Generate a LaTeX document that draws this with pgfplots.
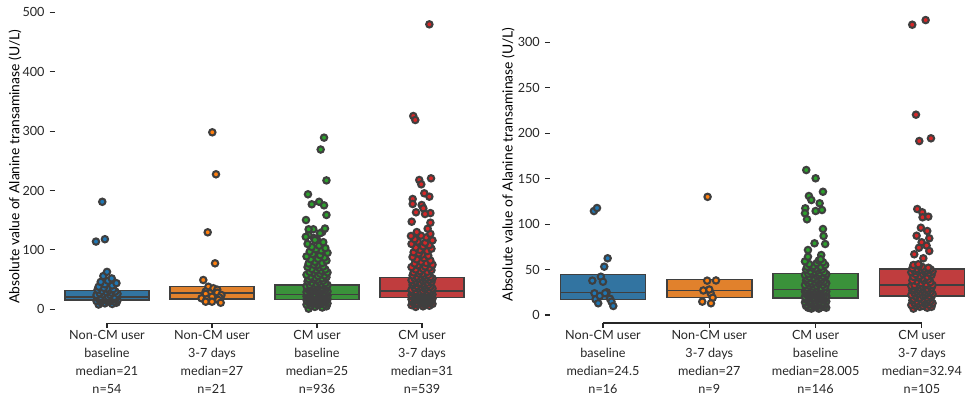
\documentclass[border=0pt]{standalone}
\usepackage{fontspec}
\setmainfont{Lato}
\usepackage{pgfplots}
\pgfplotsset{compat=1.18}
\definecolor{c0}{HTML}{1F77B4}
\definecolor{c1}{HTML}{FF7F0E}
\definecolor{c2}{HTML}{2CA02C}
\definecolor{c3}{HTML}{D62728}
\definecolor{b0}{HTML}{3274A1}
\definecolor{b1}{HTML}{E1812C}
\definecolor{b2}{HTML}{3A923A}
\definecolor{b3}{HTML}{C03D3E}
\definecolor{edge}{HTML}{3F3F3F}
\definecolor{txt}{HTML}{262626}
\pgfplotsset{
  base/.style={
    scale only axis, anchor=south west, clip=false,
    xmin=-0.5, xmax=3.5,
    axis line style={draw=none},
    tick align=outside, major tick length=3.5pt,
    tick style={color=txt, line width=0.8pt},
    xtick={0,1,2,3}, tick pos=left,
    /pgf/number format/assume math mode=true,
    tick label style={font=\fontsize{9.1}{13}\selectfont, text=txt},
    xticklabel style={align=center, anchor=north, inner sep=0pt, yshift=-1.5pt},
    yticklabel style={anchor=east, inner sep=0pt, xshift=-3.5pt},
    label style={font=\fontsize{8.9}{12}\selectfont, text=txt},
    every axis y label/.style={rotate=90, anchor=center},
    ylabel={Absolute value of Alanine transaminase (U/L)},
  },
  bx/.style={fill=#1, draw=edge, line width=1.1pt, line join=miter},
  md/.style={draw=edge, line width=1.1pt},
  pts/.style={only marks, mark=*, mark size=2.3pt, mark options={fill=#1, draw=edge, line width=1.5pt, solid}},
}
\begin{document}
\begin{tikzpicture}
\useasboundingbox (0,0) rectangle (697.68pt,285.12pt);
% ---------------- left panel ----------------
\begin{axis}[base, at={(39.24pt,52.34pt)}, width=302.4pt, height=225.6pt,
  ymin=-23.6, ymax=504, ytick={0,100,200,300,400,500},
  ylabel style={at={(axis description cs:-0.094,0.5)}},
  xticklabels={{Non-CM user\\baseline\\median=21\\n=54},{Non-CM user\\3-7 days\\median=27\\n=21},{CM user\\baseline\\median=25\\n=936},{CM user\\3-7 days\\median=31\\n=539}}]
% boxes: quartiles (Q1, Q3) and medians
\addplot[bx=b0] coordinates {(-0.4,15.7) (0.4,15.7) (0.4,31.3) (-0.4,31.3)} -- cycle;
\addplot[md] coordinates {(-0.4,21) (0.4,21)};
\addplot[bx=b1] coordinates {(0.6,17.3) (1.4,17.3) (1.4,38) (0.6,38)} -- cycle;
\addplot[md] coordinates {(0.6,27) (1.4,27)};
\addplot[bx=b2] coordinates {(1.6,16.8) (2.4,16.8) (2.4,40.9) (1.6,40.9)} -- cycle;
\addplot[md] coordinates {(1.6,25) (2.4,25)};
\addplot[bx=b3] coordinates {(2.6,19.5) (3.4,19.5) (3.4,53.9) (2.6,53.9)} -- cycle;
\addplot[md] coordinates {(2.6,31) (3.4,31)};
\addplot[pts=c0] table[row sep=\\, x expr=\thisrow{o}+0, y=v]{o v\\
-0.08 8\\ 0.05 9\\ -0.02 10\\ 0.09 11\\ -0.06 12\\ 0.01 13\\ 0.07 13\\ -0.10 14\\ 0.03 14\\ -0.04 15\\ 0.10 15\\
-0.07 16\\ 0.04 16\\ -0.01 17\\ 0.08 17\\ -0.05 18\\ 0.02 18\\ -0.09 19\\ 0.06 19\\ 0.00 19\\ -0.03 20\\ -0.08 20\\
0.05 21\\ -0.02 21\\ 0.09 21\\ -0.06 21\\ 0.01 21\\ 0.07 21\\ -0.10 24\\ 0.03 24\\ -0.04 25\\ 0.10 26\\ -0.07 27\\
0.04 28\\ -0.01 29\\ 0.08 30\\ -0.05 31\\ 0.02 32\\ -0.09 33\\ 0.06 34\\ 0.00 35\\ -0.03 36\\ -0.08 38\\ 0.05 40\\
-0.02 42\\ 0.09 44\\ -0.06 46\\ 0.01 48\\ 0.045 52\\ -0.035 56\\ 0.00 63\\ -0.105 114\\ -0.02 118\\ -0.045 181\\
};
\addplot[pts=c1] table[row sep=\\, x expr=\thisrow{o}+1, y=v]{o v\\
0.003 298\\ 0.038 227.3\\ -0.041 129.6\\ 0.029 77.4\\ -0.083 49.3\\ -0.035 38\\ 0.013 35.4\\ 0.05 33\\ -0.06 30\\
0.05 28\\ -0.02 27\\ -0.06 26\\ 0.09 24\\ 0.00 21.2\\ -0.10 18.5\\ 0.07 20\\ -0.05 17\\ 0.06 15.7\\ -0.06 12.8\\
0.00 12.8\\ 0.083 11\\
};
\addplot[pts=c2] table[row sep=\\, x expr=\thisrow{o}+2, y=v]{o v\\
-0.08 1\\ 0.05 3\\ -0.02 4\\ 0.09 5\\ -0.06 6\\ 0.01 7\\ 0.07 8\\ -0.10 8\\ 0.03 9\\ -0.04 9\\ 0.10 10\\ -0.07 10\\
0.04 11\\ -0.01 11\\ 0.08 12\\ -0.05 12\\ 0.02 13\\ -0.09 13\\ 0.06 13\\ 0.00 14\\ -0.03 14\\
-0.08 14\\ 0.05 15\\ -0.02 15\\ 0.09 15\\ -0.06 16\\ 0.01 16\\ 0.07 16\\ -0.10 16\\ 0.03 17\\ -0.04 17\\ 0.10 17\\
-0.07 17\\ 0.04 18\\ -0.01 18\\ 0.08 18\\ -0.05 19\\ 0.02 19\\ -0.09 19\\ 0.06 19\\ 0.00 20\\ -0.03 20\\
-0.08 20\\ 0.05 20\\ -0.02 21\\ 0.09 21\\ -0.06 21\\ 0.01 21\\ 0.07 22\\ -0.10 22\\ 0.03 22\\ -0.04 22\\ 0.10 23\\
-0.07 23\\ 0.04 23\\ -0.01 23\\ 0.08 24\\ -0.05 24\\ 0.02 24\\ -0.09 24\\ 0.06 25\\ 0.00 25\\ -0.03 25\\ -0.08 25\\
0.05 26\\ -0.02 26\\ 0.09 27\\ -0.06 27\\ 0.01 28\\ 0.07 28\\ -0.10 29\\ 0.03 29\\ -0.04 30\\ 0.10 30\\ -0.07 31\\
0.04 31\\ -0.01 32\\ 0.08 32\\ -0.05 33\\ 0.02 33\\ -0.09 34\\ 0.06 34\\ 0.00 35\\ -0.03 35\\
-0.08 36\\ 0.05 36\\ -0.02 37\\ 0.09 37\\ -0.06 38\\ 0.01 38\\ 0.07 39\\ -0.10 39\\ 0.03 40\\ -0.04 40\\ 0.10 41\\ -0.07 41\\
0.04 42\\ -0.01 43\\ 0.08 44\\ -0.05 45\\ 0.02 46\\ -0.09 47\\ 0.06 48\\ 0.00 49\\ -0.03 50\\
-0.08 51\\ 0.05 52\\ -0.02 53\\ 0.09 54\\ -0.06 55\\ 0.01 56\\ 0.07 57\\ -0.10 58\\ 0.03 60\\ -0.04 61\\ 0.10 62\\
-0.07 63\\ 0.04 65\\ -0.01 66\\ 0.08 67\\ -0.05 68\\ 0.02 70\\ -0.09 71\\ 0.06 72\\ 0.00 74\\ -0.03 75\\
-0.08 77\\ 0.05 78\\ -0.02 80\\ 0.09 82\\ -0.06 84\\ 0.01 85\\ 0.07 87\\ -0.10 89\\ 0.03 91\\ -0.04 93\\ 0.10 95\\
-0.07 97\\ 0.04 99\\ -0.01 101\\ 0.08 103\\ -0.05 105\\ 0.02 107\\ -0.09 110\\ 0.06 113\\ 0.00 117\\ -0.03 120\\
-0.08 125\\ 0.05 130\\
0.067 289\\ 0.035 269\\ 0.09 217\\ -0.086 193.6\\ 0.02 181\\ -0.05 176.8\\ 0.067 175\\ 0.09 158.8\\ -0.105 150.3\\
-0.035 134.7\\ -0.08 134.7\\ 0.076 136\\ -0.107 122\\ 0.029 128\\ -0.02 116.7\\
};
\addplot[pts=c3] table[row sep=\\, x expr=\thisrow{o}+3, y=v]{o v\\
-0.06 4\\ 0.01 5\\ 0.07 6\\ -0.10 7\\ 0.03 8\\ -0.04 8\\ 0.10 9\\ -0.07 9\\ 0.04 10\\ -0.01 10\\ 0.08 11\\ -0.05 11\\
0.02 12\\ -0.09 12\\ 0.06 13\\ 0.00 13\\ -0.03 14\\ -0.08 14\\ 0.05 15\\ -0.02 15\\ 0.09 15\\
-0.06 16\\ 0.01 16\\ 0.07 16\\ -0.10 17\\ 0.03 17\\ -0.04 17\\ 0.10 18\\ -0.07 18\\ 0.04 18\\ -0.01 19\\ 0.08 19\\
-0.05 20\\ 0.02 20\\ -0.09 21\\ 0.06 21\\ 0.00 21\\ -0.03 22\\ -0.08 22\\ 0.05 22\\ -0.02 23\\ 0.09 23\\
-0.06 23\\ 0.01 24\\ 0.07 24\\ -0.10 24\\ 0.03 25\\ -0.04 25\\ 0.10 25\\ -0.07 26\\ 0.04 26\\ -0.01 26\\ 0.08 27\\
-0.05 27\\ 0.02 27\\ -0.09 28\\ 0.06 28\\ 0.00 28\\ -0.03 29\\ -0.08 29\\ 0.05 29\\ -0.02 30\\ 0.09 30\\ -0.06 31\\
0.01 31\\ 0.07 32\\ -0.10 33\\ 0.03 34\\ -0.04 35\\ 0.10 35\\ -0.07 36\\ 0.04 37\\ -0.01 38\\ 0.08 38\\ -0.05 39\\
0.02 40\\ -0.09 41\\ 0.06 41\\ 0.00 42\\ -0.03 43\\ -0.08 44\\ 0.05 45\\ -0.02 45\\ 0.09 46\\
-0.06 47\\ 0.01 48\\ 0.07 49\\ -0.10 49\\ 0.03 50\\ -0.04 51\\ 0.10 52\\ -0.07 52\\ 0.04 53\\ -0.01 54\\ 0.08 54\\ -0.05 55\\
0.02 56\\ -0.09 57\\ 0.06 58\\ 0.00 59\\ -0.03 60\\ -0.08 62\\ 0.05 63\\ -0.02 64\\ 0.09 66\\
-0.06 67\\ 0.01 68\\ 0.07 70\\ -0.10 71\\ 0.03 72\\ -0.04 74\\ 0.10 75\\ -0.07 77\\ 0.04 78\\ -0.01 80\\ 0.08 82\\
-0.05 84\\ 0.02 86\\ -0.09 88\\ 0.06 90\\ 0.00 92\\ -0.03 94\\ -0.08 96\\ 0.05 98\\ -0.02 100\\ 0.09 102\\
-0.06 104\\ 0.01 106\\ 0.07 108\\ -0.10 110\\ 0.03 112\\ -0.04 114\\ 0.10 116\\ -0.07 118\\ 0.04 121\\ -0.01 124\\
0.08 127\\ -0.05 130\\
0.07 479.8\\ -0.083 325.4\\ -0.064 318.7\\ -0.026 217.7\\ -0.007 210.4\\ 0.086 220.5\\ 0.022 195.3\\ 0.07 189.6\\
-0.089 185.7\\ -0.089 177.3\\ -0.003 175.6\\ 0.013 170\\ -0.057 163.3\\ 0.08 162\\ 0.029 160.4\\ -0.098 147.5\\
0.08 145.8\\ 0.054 135.7\\ -0.105 123.4\\
};
\draw[txt, line width=0.8pt] (axis cs:0,-23.6) -- (axis cs:3,-23.6);
\end{axis}
% ---------------- right panel ----------------
\begin{axis}[base, at={(395.86pt,52.56pt)}, width=306.2pt, height=228.5pt,
  ymin=-8.8, ymax=340.4, ytick={0,50,100,150,200,250,300},
  ylabel style={at={(axis description cs:-0.098,0.5)}},
  xticklabels={{Non-CM user\\baseline\\median=24.5\\n=16},{Non-CM user\\3-7 days\\median=27\\n=9},{CM user\\baseline\\median=28.005\\n=146},{CM user\\3-7 days\\median=32.94\\n=105}}]
\addplot[bx=b0] coordinates {(-0.4,17.3) (0.4,17.3) (0.4,44.8) (-0.4,44.8)} -- cycle;
\addplot[md] coordinates {(-0.4,24.5) (0.4,24.5)};
\addplot[bx=b1] coordinates {(0.6,19) (1.4,19) (1.4,39.3) (0.6,39.3)} -- cycle;
\addplot[md] coordinates {(0.6,27) (1.4,27)};
\addplot[bx=b2] coordinates {(1.6,18.7) (2.4,18.7) (2.4,45.9) (1.6,45.9)} -- cycle;
\addplot[md] coordinates {(1.6,28.005) (2.4,28.005)};
\addplot[bx=b3] coordinates {(2.6,20.9) (3.4,20.9) (3.4,50.6) (2.6,50.6)} -- cycle;
\addplot[md] coordinates {(2.6,32.94) (3.4,32.94)};
\addplot[pts=c0] table[row sep=\\, x expr=\thisrow{o}+0, y=v]{o v\\
-0.085 114.4\\ -0.056 117.7\\ 0.044 62.4\\ 0.012 53.2\\ -0.02 42.1\\ -0.1 37.8\\ 0.0 36.6\\ -0.08 23.9\\
0.035 25\\ -0.07 17.3\\ -0.045 12.9\\ 0.066 17.9\\ 0.08 14.7\\ 0.097 9.9\\ -0.03 21\\ 0.02 24\\
};
\addplot[pts=c1] table[row sep=\\, x expr=\thisrow{o}+1, y=v]{o v\\
-0.016 130\\ -0.02 37.8\\ 0.063 38\\ -0.056 27\\ 0.013 23.9\\ 0.032 19\\ -0.066 14.7\\ 0.016 12.9\\ 0.0 28\\
};
\addplot[pts=c2] table[row sep=\\, x expr=\thisrow{o}+2, y=v]{o v\\
0.03 7\\ -0.04 7\\ 0.10 8\\ -0.07 8\\ 0.04 8\\ -0.01 9\\ 0.08 9\\ -0.05 9\\ 0.02 10\\ -0.09 10\\ 0.06 10\\
0.00 11\\ -0.03 11\\ -0.08 11\\ 0.05 12\\ -0.02 12\\ 0.09 12\\ -0.06 13\\ 0.01 13\\ 0.07 13\\ -0.10 14\\
0.03 14\\ -0.04 14\\ 0.10 15\\ -0.07 15\\ 0.04 15\\ -0.01 16\\ 0.08 16\\ -0.05 16\\ 0.02 17\\ -0.09 17\\ 0.06 17\\
0.00 18\\ -0.03 18\\ -0.08 18\\ 0.05 18.5\\
-0.02 19\\ 0.09 19\\ -0.06 19\\ 0.01 20\\ 0.07 20\\ -0.10 20\\
0.03 20\\ -0.04 21\\ 0.10 21\\ -0.07 21\\ 0.04 21\\ -0.01 22\\ 0.08 22\\ -0.05 22\\ 0.02 22\\ -0.09 23\\ 0.06 23\\
0.00 23\\ -0.03 23\\ -0.08 24\\ 0.05 24\\ -0.02 24\\ 0.09 25\\ -0.06 25\\ 0.01 25\\ 0.07 25\\ -0.10 26\\
0.03 26\\ -0.04 26\\ 0.10 26\\ -0.07 27\\ 0.04 27\\ -0.01 27\\ 0.08 27\\ -0.05 27.5\\ 0.02 28\\ -0.09 28\\
0.06 28.5\\ 0.00 29\\ -0.03 29\\ -0.08 30\\ 0.05 30\\ -0.02 31\\ 0.09 31\\ -0.06 32\\ 0.01 32\\ 0.07 33\\ -0.10 33\\
0.03 34\\ -0.04 34\\ 0.10 35\\ -0.07 35\\ 0.04 36\\ -0.01 36\\ 0.08 37\\ -0.05 37\\ 0.02 38\\ -0.09 38\\ 0.06 39\\
0.00 39\\ -0.03 40\\ -0.08 40\\ 0.05 41\\ -0.02 41\\ 0.09 42\\ -0.06 42\\ 0.01 43\\ 0.07 43\\ -0.10 44\\
0.03 44\\ -0.04 45\\ 0.10 45\\ -0.07 45.5\\ 0.04 46\\
-0.01 47\\ 0.08 47\\ -0.05 48\\ 0.02 49\\ -0.09 50\\ 0.06 50\\ 0.00 51\\ -0.03 52\\ -0.08 53\\ 0.05 53\\
-0.02 54\\ 0.09 55\\ -0.06 56\\ 0.01 57\\ 0.07 58\\ -0.10 59\\ 0.03 60\\
-0.088 159.5\\ 0.0 150.4\\ 0.069 135.6\\ -0.063 130.9\\ -0.04 126.5\\ 0.038 122.9\\ -0.097 117.4\\ 0.0 114.4\\
0.06 115.5\\ -0.1 111.9\\ -0.081 105.3\\ 0.069 94.6\\ 0.075 86.9\\ -0.01 78.9\\ 0.09 78.1\\ -0.072 71.5\\
0.053 66\\ -0.072 64.1\\ 0.047 61.3\\
};
\addplot[pts=c3] table[row sep=\\, x expr=\thisrow{o}+3, y=v]{o v\\
-0.08 7\\ 0.05 8\\ -0.02 9\\ 0.09 9\\ -0.06 10\\ 0.01 10\\ 0.07 11\\ -0.10 11\\ 0.03 12\\ -0.04 12\\ 0.10 13\\
-0.07 13\\ 0.04 14\\ -0.01 14\\ 0.08 15\\ -0.05 15\\ 0.02 16\\ -0.09 16\\ 0.06 17\\ 0.00 17\\ -0.03 18\\
-0.08 18\\ 0.05 19\\ -0.02 19\\ 0.09 20\\ -0.06 20.5\\
0.01 21\\ 0.07 21\\ -0.10 22\\ 0.03 22\\ -0.04 23\\ 0.10 23\\ -0.07 24\\ 0.04 24\\ -0.01 25\\ 0.08 25\\ -0.05 26\\
0.02 26\\ -0.09 27\\ 0.06 27\\ 0.00 28\\ -0.03 28\\ -0.08 29\\ 0.05 29\\ -0.02 30\\ 0.09 30\\ -0.06 31\\ 0.01 31\\
0.07 32\\ -0.10 32\\ 0.03 32.5\\ -0.04 32.9\\ 0.10 32.94\\
-0.07 33\\ 0.04 34\\ -0.01 35\\ 0.08 36\\ -0.05 37\\ 0.02 38\\ -0.09 38\\ 0.06 39\\ 0.00 40\\ -0.03 41\\
-0.08 42\\ 0.05 42\\ -0.02 43\\ 0.09 44\\ -0.06 45\\ 0.01 45\\ 0.07 46\\ -0.10 47\\ 0.03 47\\ -0.04 48\\ 0.10 48\\
-0.07 49\\ 0.04 49\\ -0.01 50\\ 0.08 50.3\\ -0.05 50.6\\
0.02 51\\ -0.09 51.4\\ 0.06 52\\ 0.00 53\\ -0.03 54\\ -0.08 55\\
-0.091 319.4\\ 0.035 324.5\\ -0.056 220.4\\ -0.025 191.4\\ 0.085 194.4\\ -0.044 116.6\\ 0.003 113\\ 0.006 107.5\\
0.06 108.2\\ -0.01 96\\ 0.05 92.4\\ -0.05 87.2\\ 0.069 84.4\\ -0.003 80\\ 0.044 76.3\\ -0.028 74\\ 0.069 70.4\\
-0.072 66.8\\ 0.013 62.4\\ -0.034 55.8\\
};
\draw[txt, line width=0.8pt] (axis cs:0,-8.8) -- (axis cs:3,-8.8);
\end{axis}
\end{tikzpicture}
\end{document}
